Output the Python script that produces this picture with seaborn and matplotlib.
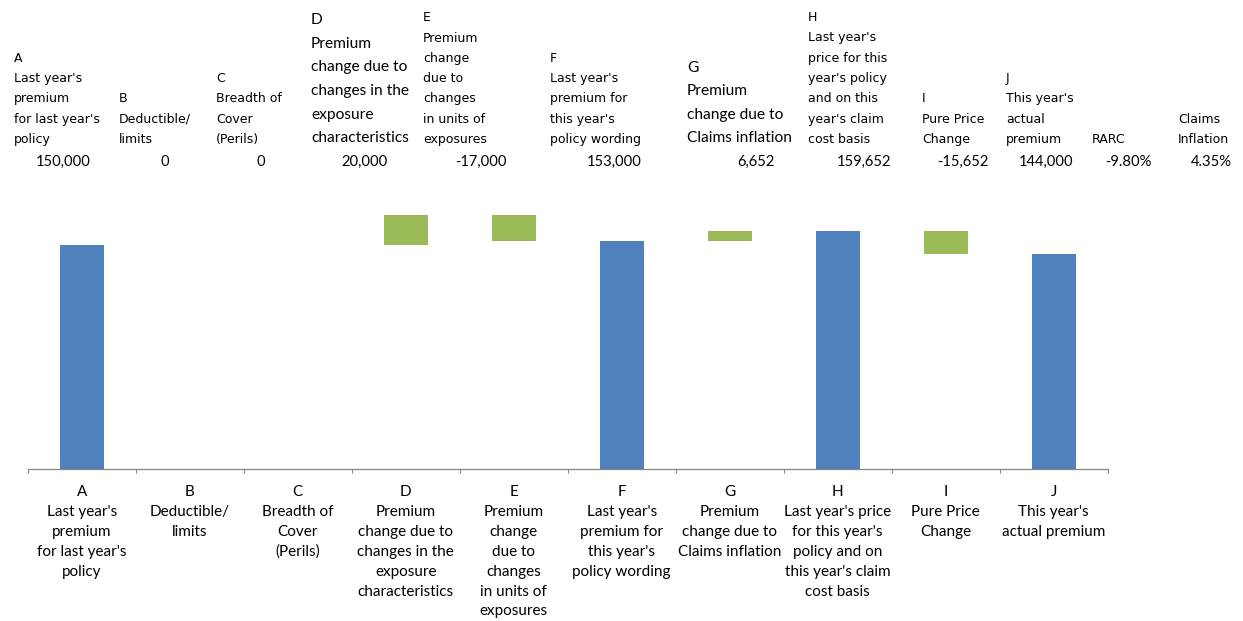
import matplotlib
matplotlib.use("Agg")
import matplotlib.pyplot as plt
import seaborn as sns
import numpy as np
import pandas as pd
from matplotlib.transforms import blended_transform_factory

# ---------------- data ----------------
categories = ["A", "B", "C", "D", "E", "F", "G", "H", "I", "J"]
step_values = [150000, 0, 0, 20000, -17000, 153000, 6652, 159652, -15652, 144000]
step_kinds = ["total", "delta", "delta", "delta", "delta",
              "total", "delta", "total", "delta", "total"]

axis_labels = [
    ["A", "Last year's", "premium", "for last year's", "policy"],
    ["B", "Deductible/", "limits"],
    ["C", "Breadth of", "Cover", "(Perils)"],
    ["D", "Premium", "change due to", "changes in the", "exposure", "characteristics"],
    ["E", "Premium", "change", "due to", "changes", "in units of", "exposures"],
    ["F", "Last year's", "premium for", "this year's", "policy wording"],
    ["G", "Premium", "change due to", "Claims inflation"],
    ["H", "Last year's price", "for this year's", "policy and on", "this year's claim", "cost basis"],
    ["I", "Pure Price", "Change"],
    ["J", "This year's", "actual premium"],
]

header_labels = [
    ["A", "Last year's", "premium", "for last year's", "policy"],
    ["B", "Deductible/", "limits"],
    ["C", "Breadth of", "Cover", "(Perils)"],
    ["D", "Premium", "change due to", "changes in the", "exposure", "characteristics"],
    ["E", "Premium", "change", "due to", "changes", "in units of", "exposures"],
    ["F", "Last year's", "premium for", "this year's", "policy wording"],
    ["G", "Premium", "change due to", "Claims inflation"],
    ["H", "Last year's", "price for this", "year's policy", "and on this", "year's claim", "cost basis"],
    ["I", "Pure Price", "Change"],
    ["J", "This year's", "actual", "premium"],
    ["RARC"],
    ["Claims", "Inflation"],
]
header_values = ["150,000", "0", "0", "20,000", "-17,000", "153,000", "6,652",
                 "159,652", "-15,652", "144,000", "-9.80%", "4.35%"]

# ---------------- styling ----------------
W, H = 1243, 621
BLUE = "#4F81BD"
GREEN = "#9BBB59"
AXIS_GREY = "#868686"
ARIAL = ["DejaVu Sans"]
CALIBRI = ["Lato", "DejaVu Sans"]

sns.set_theme(style="white")
plt.rcParams["font.family"] = ARIAL

header_x = [14, 119, 216, 311, 423, 550, 687, 808, 922, 1006, 1092, 1178]
header_font = ["a", "a", "a", "c", "a", "a", "c", "a", "a", "a", "a", "a"]
value_right = [91, 169, 265, 388, 507, 642, 775, 891, 988, 1073, 1151, 1232]

# waterfall geometry derived from the data
bottoms, heights = [], []
running = 0
for v, k in zip(step_values, step_kinds):
    if k == "total":
        bottoms.append(0)
        heights.append(v)
        running = v
    else:
        bottoms.append(running if v >= 0 else running + v)
        heights.append(abs(v))
        running += v

df = pd.DataFrame({"category": categories, "height": heights})

fig = plt.figure(figsize=(W / 100, H / 100), dpi=100)
ax_left, ax_right, ax_bottom, ax_top = 27.7, 1107.7, 468.5, 170.6
ax = fig.add_axes([ax_left / W, 1 - ax_bottom / H,
                   (ax_right - ax_left) / W, (ax_bottom - ax_top) / H])

sns.barplot(data=df, x="category", y="height", order=categories,
            bottom=np.array(bottoms), width=0.41, errorbar=None,
            color=BLUE, saturation=1, ax=ax, zorder=2)
for patch, kind in zip(ax.patches, step_kinds):
    patch.set_facecolor(BLUE if kind == "total" else GREEN)
    patch.set_edgecolor("none")

ax.set_xlim(-0.5, len(categories) - 0.5)
ax.set_ylim(0, 200000)
ax.set_xlabel("")
ax.set_ylabel("")
ax.set_yticks([])
ax.set_xticks(np.arange(-0.5, len(categories), 1.0))
ax.set_xticklabels([])
ax.tick_params(axis="x", which="major", direction="out", length=3.2,
               width=0.8, color=AXIS_GREY, bottom=True)
for s in ["top", "right", "left"]:
    ax.spines[s].set_visible(False)
ax.spines["bottom"].set_color(AXIS_GREY)
ax.spines["bottom"].set_linewidth(0.9)

# category labels below the axis
trans = blended_transform_factory(ax.transData, fig.transFigure)
for i, lines in enumerate(axis_labels):
    for j, line in enumerate(lines):
        y_px = 496 + j * 19.9
        ax.text(i, 1 - y_px / H, line, transform=trans, ha="center",
                va="baseline", fontsize=11, family=CALIBRI, color="black")

# spreadsheet table above the chart
for col, lines in enumerate(header_labels):
    fam = CALIBRI if header_font[col] == "c" else ARIAL
    size = 11.2 if header_font[col] == "c" else 9
    step = 23.5 if header_font[col] == "c" else 20.3
    base = 142 if header_font[col] == "c" else 143
    n = len(lines)
    for j, line in enumerate(lines):
        y_px = base - (n - 1 - j) * step
        fig.text(header_x[col] / W, 1 - y_px / H, line, ha="left",
                 va="baseline", fontsize=size, family=fam, color="black")
    fig.text(value_right[col] / W, 1 - 166 / H, header_values[col],
             ha="right", va="baseline", fontsize=10.6, family=CALIBRI,
             color="black")

fig.savefig("out.png", dpi=100, facecolor="white")
